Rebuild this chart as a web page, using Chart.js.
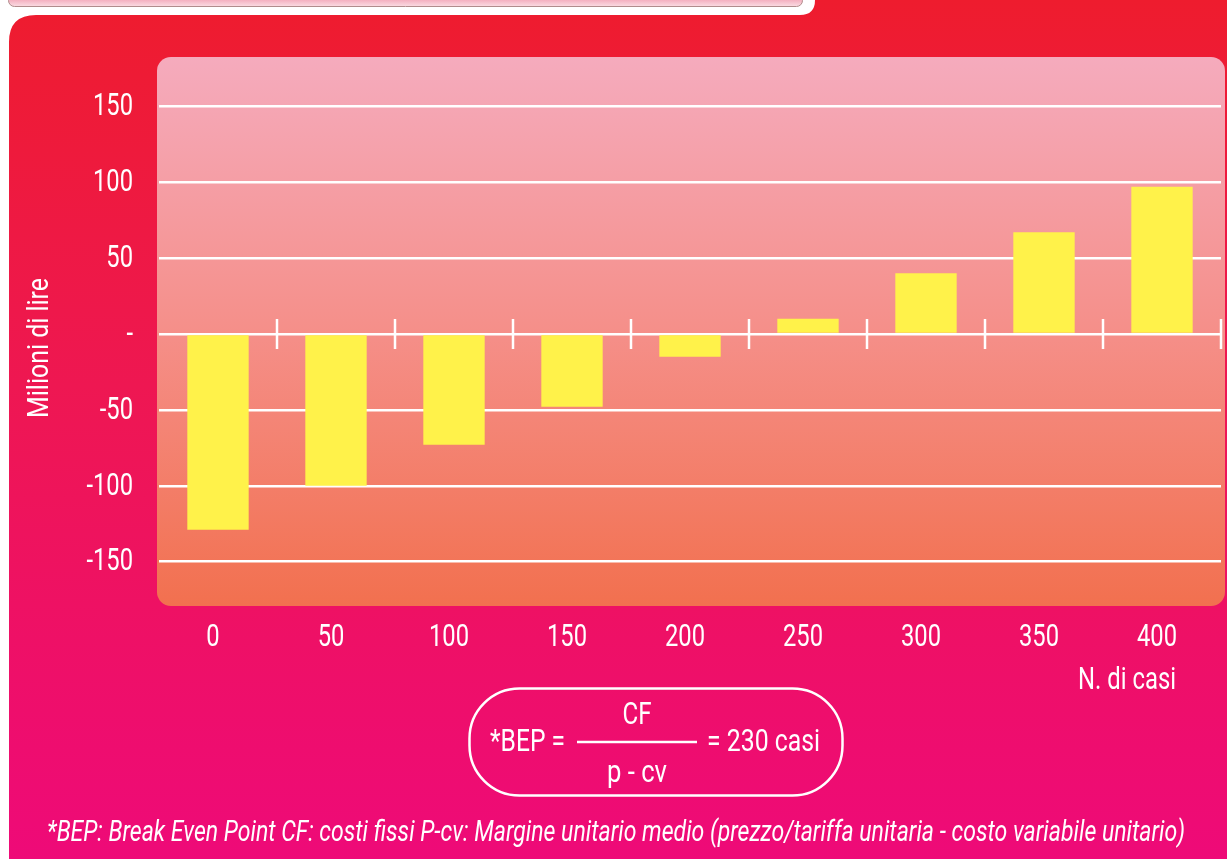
<!DOCTYPE html>
<html>
<head>
<meta charset="utf-8">
<script src="https://cdn.jsdelivr.net/npm/chart.js@4.4.1/dist/chart.umd.min.js"></script>
<style>
  html, body { margin: 0; padding: 0; background: #fff; }
  canvas { display: block; }
</style>
</head>
<body>
<canvas id="bepChart" width="1227" height="859"></canvas>
<script>
const casi = ['0', '50', '100', '150', '200', '250', '300', '350', '400'];
const risultato = [-129, -100, -73, -48, -15, 10, 40, 67, 97];
const yTicks = [-150, -100, -50, 0, 50, 100, 150];

const FONT = "Roboto, 'DejaVu Sans Condensed', sans-serif";
Chart.defaults.font.family = FONT;
Chart.defaults.color = '#ffffff';

// condensed text: the original uses a narrow face, so squeeze horizontally
function testo(c, s, x, y, size, align, sx, italic) {
  c.save();
  c.font = (italic ? 'italic ' : '') + size + 'px ' + FONT;
  c.textAlign = align;
  c.textBaseline = 'middle';
  c.translate(x, y);
  c.scale(sx, 1);
  c.fillText(s, 0, 0);
  c.restore();
}
function larghezza(c, s, size, italic) {
  c.save();
  c.font = (italic ? 'italic ' : '') + size + 'px ' + FONT;
  const w = c.measureText(s).width;
  c.restore();
  return w;
}
// squeeze to a given width
function testoW(c, s, x, y, size, align, w, italic) {
  testo(c, s, x, y, size, align, w / larghezza(c, s, size, italic), italic);
}

// backgrounds: red/magenta panel, top strip, rounded plot panel
const sfondo = {
  id: 'sfondo',
  beforeDraw(chart) {
    const c = chart.ctx;
    const W = chart.width, H = chart.height;
    c.save();
    c.fillStyle = '#ffffff';
    c.fillRect(0, 0, W, H);

    let g = c.createLinearGradient(0, 0, 0, H);
    g.addColorStop(0, '#ee1c2e');
    g.addColorStop(0.45, '#ee1752');
    g.addColorStop(1, '#ee0a78');
    c.fillStyle = g;
    c.beginPath();
    c.moveTo(9, H);
    c.lineTo(9, 42);
    c.quadraticCurveTo(9, 15, 36, 15);
    c.lineTo(800, 15);
    c.quadraticCurveTo(815, 15, 815, 0);
    c.lineTo(W, 0);
    c.lineTo(W, H);
    c.closePath();
    c.fill();

    // decorative strip at the top
    let s = c.createLinearGradient(0, 0, 0, 7);
    s.addColorStop(0, '#f4b0c0');
    s.addColorStop(1, '#fbe0e6');
    c.fillStyle = s;
    c.strokeStyle = '#b08c8c';
    c.lineWidth = 1;
    c.beginPath();
    c.roundRect(8.5, -6, 794, 12.5, 6);
    c.fill();
    c.stroke();

    // plot panel
    const a = chart.chartArea;
    let p = c.createLinearGradient(0, a.top, 0, a.bottom);
    p.addColorStop(0, '#f5abbd');
    p.addColorStop(0.5, '#f58f89');
    p.addColorStop(1, '#f2704f');
    c.fillStyle = p;
    c.beginPath();
    c.roundRect(157, a.top, 1068, a.bottom - a.top, 14);
    c.fill();
    c.restore();
  }
};

// tick marks on the zero line, tick labels, axis titles, formula, footnote
const extra = {
  id: 'extra',
  afterDraw(chart) {
    const c = chart.ctx;
    const x = chart.scales.x, y = chart.scales.y;
    const y0 = y.getPixelForValue(0);
    const half = (x.getPixelForValue(1) - x.getPixelForValue(0)) / 2;
    c.save();
    c.strokeStyle = '#ffffff';
    c.fillStyle = '#ffffff';
    c.lineWidth = 2.5;
    for (let i = 0; i < casi.length; i++) {
      const bx = Math.round(x.getPixelForValue(i) + half);
      c.beginPath();
      c.moveTo(bx, y0 - 15);
      c.lineTo(bx, y0 + 15);
      c.stroke();
    }

    const fs = 31;
    const sx = 40 / larghezza(c, '150', fs);

    // y tick labels
    y.ticks.forEach(t => {
      const lab = t.value === 0 ? '-' : String(t.value);
      testo(c, lab, 133, y.getPixelForValue(t.value) + 1, fs, 'right', sx);
    });
    // x tick labels
    casi.forEach((lab, i) => {
      testo(c, lab, x.getPixelForValue(i) - 5, 638, fs, 'center', sx);
    });

    // axis titles
    c.save();
    c.translate(40, 348);
    c.rotate(-Math.PI / 2);
    testoW(c, 'Milioni di lire', 0, 0, 30, 'center', 140);
    c.restore();
    testoW(c, 'N. di casi', 1176, 681, fs, 'right', 98);

    // formula box
    c.lineWidth = 2.5;
    c.beginPath();
    c.roundRect(469.5, 688.5, 373, 107, 50);
    c.stroke();
    testoW(c, '*BEP =', 490, 743, fs, 'left', 75);
    testoW(c, '= 230 casi', 707, 743, fs, 'left', 113);
    testoW(c, 'CF', 637, 716, fs, 'center', 29);
    testoW(c, 'p - cv', 637, 774, fs, 'center', 60);
    c.beginPath();
    c.moveTo(577, 742);
    c.lineTo(697, 742);
    c.stroke();

    const nota = '*BEP: Break Even Point CF: costi fissi P-cv: Margine unitario medio (prezzo/tariffa unitaria - costo variabile unitario)';
    testoW(c, nota, 47, 834, 29, 'left', 1138, true);
    c.restore();
  }
};

const ctx = document.getElementById('bepChart').getContext('2d');
const bepChart = new Chart(ctx, {
  type: 'bar',
  data: {
    labels: casi,
    datasets: [{
      data: risultato,
      backgroundColor: '#fff24a',
      borderWidth: 0,
      barPercentage: 0.52,
      categoryPercentage: 1
    }]
  },
  options: {
    responsive: false,
    animation: false,
    devicePixelRatio: 1,
    layout: { padding: { top: 57, right: 6, bottom: 0, left: 0 } },
    plugins: { legend: { display: false }, tooltip: { enabled: false } },
    scales: {
      x: {
        offset: true,
        grid: { display: false },
        border: { display: false },
        ticks: { display: false },
        afterFit(scale) { scale.height = 253; }
      },
      y: {
        min: -179.2,
        max: 182.5,
        grid: { color: '#ffffff', lineWidth: 2.5, drawTicks: false },
        border: { display: false },
        afterBuildTicks(scale) { scale.ticks = yTicks.map(v => ({ value: v })); },
        ticks: { display: false },
        afterFit(scale) { scale.width = 159; }
      }
    }
  },
  plugins: [sfondo, extra]
});
</script>
</body>
</html>
